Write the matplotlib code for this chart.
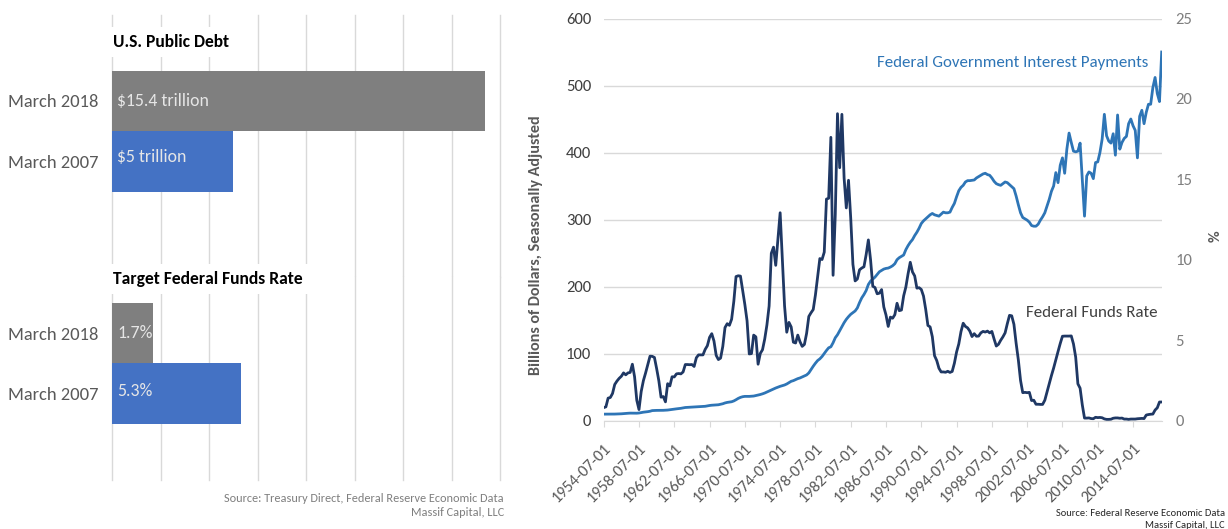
import matplotlib
matplotlib.use('Agg')
import matplotlib.pyplot as plt
import numpy as np
import pandas as pd

plt.rcParams['font.family'] = ['Carlito', 'Lato', 'DejaVu Sans']

# ---------------- data ----------------
debt_categories = ['March 2018', 'March 2007']
debt_values = [15.4, 5.0]
debt_labels = ['$15.4 trillion', '$5 trillion']

rate_categories = ['March 2018', 'March 2007']
rate_values = [1.7, 5.3]
rate_labels = ['1.7%', '5.3%']

bar_colors = ['#7F7F7F', '#4472C4']

start_date = '1954-07-01'

# Federal government interest payments, billions of dollars (quarterly, 1954-07 .. 2017-10)
interest = [
    9.5, 9.5,
    9.5, 9.5, 9.6, 9.6,
    9.7, 9.8, 10.0, 10.3,
    10.6, 10.8, 11.0, 11.0,
    11.0, 10.9, 11.2, 11.8,
    12.4, 12.8, 13.2, 13.8,
    14.8, 15.0, 15.1, 15.1,
    15.1, 15.2, 15.4, 15.6,
    16.0, 16.5, 17.0, 17.4,
    17.8, 18.2, 18.8, 19.4,
    19.6, 19.8, 20.0, 20.1,
    20.3, 20.6, 20.8, 21.0,
    21.2, 21.8, 22.4, 22.8,
    23.0, 23.2, 23.5, 24.2,
    25.0, 26.2, 27.0, 27.5,
    28.0, 29.2, 31.0, 33.0,
    34.5, 35.5, 36.0, 36.0,
    36.0, 36.2, 36.5, 37.2,
    38.0, 38.8, 39.8, 41.0,
    42.5, 44.0, 45.5, 47.0,
    48.5, 49.8, 51.0, 52.0,
    53.0, 54.5, 56.5, 58.5,
    59.5, 61.0, 62.5, 63.5,
    65.0, 66.5, 68.0, 71.0,
    76.0, 81.0, 85.5, 89.5,
    92.0, 95.5, 100.0, 104.5,
    108.5, 110.0, 116.0, 123.5,
    128.0, 134.0, 140.0, 146.0,
    151.0, 155.0, 158.5, 161.0,
    163.5, 168.0, 176.0, 183.0,
    188.0, 194.0, 203.0, 208.0,
    211.0, 214.0, 218.0, 222.0,
    224.0, 226.0, 227.0, 227.5,
    229.0, 231.0, 234.0, 240.0,
    243.0, 245.0, 247.0, 255.0,
    261.0, 266.0, 270.0, 276.0,
    281.0, 287.0, 294.0, 298.0,
    301.0, 304.0, 307.0, 309.0,
    307.0, 306.0, 305.0, 308.0,
    311.0, 310.0, 310.0, 311.0,
    318.0, 324.0, 334.0, 343.0,
    348.0, 351.0, 356.0, 358.0,
    358.0, 358.5, 359.0, 362.0,
    364.0, 366.0, 368.0, 369.0,
    367.0, 366.0, 362.0, 357.0,
    353.5, 352.0, 351.0, 353.5,
    356.0, 355.0, 352.0, 349.0,
    346.0, 335.0, 322.0, 310.0,
    303.0, 301.0, 299.0, 296.0,
    291.0, 290.0, 290.0, 293.0,
    299.0, 304.0, 310.0, 320.0,
    330.0, 342.0, 350.0, 370.0,
    355.0, 381.0, 392.0, 369.0,
    405.0, 429.0, 415.0, 402.0,
    401.0, 402.0, 414.0, 360.0,
    305.0, 365.0, 371.0, 369.0,
    361.0, 385.0, 386.0, 400.0,
    420.0, 457.0, 425.0, 417.0,
    414.0, 428.0, 396.0, 456.0,
    405.0, 415.0, 421.0, 424.0,
    443.0, 450.0, 440.0, 433.0,
    392.0, 454.0, 463.0, 443.0,
    460.0, 472.0, 472.0, 497.0,
    512.0, 488.0, 476.0, 550.0,
]

# Effective federal funds rate, percent (quarterly, 1954-07 .. 2017-10)
fed_funds = [
    0.80, 0.85,
    1.39, 1.43, 1.68, 2.24,
    2.45, 2.62, 2.75, 2.96,
    2.84, 2.96, 2.99, 3.50,
    2.72, 1.26, 0.68, 1.80,
    2.48, 2.96, 3.47, 4.00,
    3.99, 3.92, 3.23, 2.47,
    1.45, 1.49, 1.16, 2.29,
    2.15, 2.72, 2.71, 2.90,
    2.92, 2.90, 3.02, 3.48,
    3.48, 3.47, 3.48, 3.36,
    3.90, 4.08, 4.08, 4.08,
    4.42, 4.65, 5.17, 5.40,
    4.94, 4.05, 3.79, 3.88,
    4.61, 5.78, 6.02, 5.92,
    6.30, 7.41, 8.95, 9.00,
    8.98, 8.10, 7.21, 6.20,
    4.14, 4.16, 5.31, 5.20,
    3.50, 4.17, 4.40, 5.06,
    5.94, 7.12, 10.40, 10.78,
    9.65, 11.31, 12.92, 10.06,
    7.13, 5.49, 6.10, 5.82,
    4.87, 4.82, 5.31, 4.90,
    4.61, 4.73, 5.42, 6.47,
    6.70, 6.90, 7.81, 8.96,
    10.07, 10.01, 10.47, 13.77,
    13.82, 17.61, 9.03, 12.81,
    19.08, 15.72, 19.04, 15.08,
    13.22, 14.94, 12.59, 9.71,
    8.68, 8.80, 9.37, 9.48,
    9.56, 10.32, 11.23, 9.99,
    8.35, 8.27, 7.88, 7.92,
    8.14, 7.06, 6.56, 5.85,
    6.43, 6.36, 6.58, 7.29,
    6.83, 6.87, 7.75, 8.30,
    9.12, 9.84, 9.24, 8.99,
    8.23, 8.26, 8.15, 7.74,
    6.91, 5.91, 5.82, 5.21,
    4.03, 3.73, 3.25, 3.02,
    3.02, 3.00, 3.06, 2.99,
    3.05, 3.56, 4.26, 4.76,
    5.53, 6.05, 5.85, 5.76,
    5.56, 5.22, 5.40, 5.24,
    5.25, 5.45, 5.54, 5.50,
    5.56, 5.45, 5.54, 5.07,
    4.63, 4.74, 4.99, 5.20,
    5.45, 6.02, 6.54, 6.51,
    5.98, 4.80, 3.77, 2.49,
    1.73, 1.75, 1.73, 1.75,
    1.24, 1.26, 1.01, 1.01,
    1.00, 1.00, 1.26, 1.76,
    2.28, 2.79, 3.26, 3.78,
    4.29, 4.79, 5.24, 5.25,
    5.25, 5.25, 5.26, 4.76,
    3.94, 2.28, 2.01, 0.97,
    0.15, 0.15, 0.16, 0.12,
    0.11, 0.20, 0.18, 0.19,
    0.17, 0.10, 0.07, 0.07,
    0.08, 0.14, 0.16, 0.16,
    0.14, 0.15, 0.09, 0.09,
    0.07, 0.09, 0.09, 0.09,
    0.11, 0.12, 0.13, 0.12,
    0.34, 0.37, 0.39, 0.40,
    0.65, 0.79, 1.15, 1.15,
]

# ---------------- layout helpers ----------------
W, H = 1228, 529
fig = plt.figure(figsize=(W / 100, H / 100), dpi=100)


def fx(px):
    return px / W


def fy(py):
    return 1 - py / H


GRID = '#D9D9D9'


def bar_panel(rect, cats, vals, labels, ylim, label_dy):
    ax = fig.add_axes(rect)
    y = np.arange(len(cats))
    ax.barh(y, vals, height=1.0, color=bar_colors, zorder=2)
    ax.set_xlim(0, 16)
    ax.set_ylim(*ylim)
    ax.set_xticks(np.arange(0, 17, 2))
    ax.xaxis.grid(True, color=GRID, lw=1.0)
    for gl in ax.get_xgridlines():
        gl.set_clip_on(False)
    ax.set_axisbelow(True)
    ax.tick_params(axis='x', length=0, labelbottom=False)
    ax.set_yticks(y)
    ax.set_yticklabels(cats, fontsize=13.3, color='#595959')
    ax.tick_params(axis='y', length=0, pad=10)
    for s in ax.spines.values():
        s.set_visible(False)
    for yi, lab, dy in zip(y, labels, label_dy):
        ax.annotate(lab, xy=(0, yi), xytext=(3.5, dy), textcoords='offset points',
                    ha='left', va='center', fontsize=12.8, color='#E6E6E6', zorder=4)
    return ax


bar_panel([fx(112.3), fy(277), (500 - 112.3) / W, (277 - 15) / H],
          debt_categories, debt_values, debt_labels, (2.91, -1.42), (0, 3))
bar_panel([fx(112.3), fy(480), (500 - 112.3) / W, (480 - 277) / H],
          rate_categories, rate_values, rate_labels, (2.43, -0.93), (0, 2))

title_box = dict(facecolor='white', edgecolor='none', boxstyle='square,pad=0.4')
fig.text(fx(113), fy(42), 'U.S. Public Debt', fontsize=12.6, fontweight='bold',
         color='black', ha='left', va='center', bbox=title_box, zorder=5)
fig.text(fx(113), fy(279), 'Target Federal Funds Rate', fontsize=12.6, fontweight='bold',
         color='black', ha='left', va='center', bbox=title_box, zorder=5)

fig.text(fx(504), fy(498), 'Source: Treasury Direct, Federal Reserve Economic Data',
         fontsize=8.8, color='#7F7F7F', ha='right', va='center')
fig.text(fx(504), fy(513), 'Massif Capital, LLC',
         fontsize=8.8, color='#7F7F7F', ha='right', va='center')

# ---------------- right line chart ----------------
n = len(interest)
x = np.arange(n)
dates = pd.date_range(start_date, periods=n, freq='QS-JAN').strftime('%Y-%m-%d')

ax = fig.add_axes([fx(603.7), fy(420.5), (1161.7 - 603.7) / W, (420.5 - 18.5) / H])
ax.plot(x, interest, color='#2E75B6', lw=2.0, zorder=3)
ax.set_xlim(0, n - 1)
ax.set_ylim(0, 600)
ax.set_yticks(np.arange(0, 601, 100))
ax.yaxis.grid(True, color=GRID, lw=1.0)
ax.set_axisbelow(True)
ax.tick_params(axis='y', length=0, pad=9, labelsize=12, labelcolor='#404040')
tick_pos = x[::16]
ax.set_xticks(tick_pos)
ax.set_xticklabels(dates[::16], rotation=45, ha='right', rotation_mode='anchor',
                   fontsize=11.8, color='#595959')
ax.tick_params(axis='x', length=4, color=GRID, pad=11)
for k, s in ax.spines.items():
    s.set_visible(k == 'bottom')
ax.spines['bottom'].set_color(GRID)

ax2 = ax.twinx()
ax2.plot(x, fed_funds, color='#1F3864', lw=2.0, zorder=4)
ax2.set_ylim(0, 25)
ax2.set_yticks(np.arange(0, 26, 5))
ax2.tick_params(axis='y', length=0, pad=10, labelsize=12, labelcolor='#7F7F7F')
for s in ax2.spines.values():
    s.set_visible(False)

fig.text(fx(536), fy(245), 'Billions of Dollars, Seasonally Adjusted', rotation=90,
         fontsize=11.6, fontweight='bold', color='#595959', ha='center', va='center')
fig.text(fx(1216), fy(236), '%', rotation=90,
         fontsize=11.6, fontweight='bold', color='#595959', ha='center', va='center')

fig.text(fx(1148), fy(63.5), 'Federal Government Interest Payments', fontsize=12.2,
         color='#2E75B6', ha='right', va='center')
fig.text(fx(1157), fy(313), 'Federal Funds Rate', fontsize=12.2,
         color='#404040', ha='right', va='center')

fig.text(fx(1225), fy(513), 'Source: Federal Reserve Economic Data', fontsize=7.6,
         color='#262626', ha='right', va='center')
fig.text(fx(1225), fy(525), 'Massif Capital, LLC', fontsize=7.6,
         color='#262626', ha='right', va='center')

fig.savefig('out.png', dpi=100, facecolor='white')
